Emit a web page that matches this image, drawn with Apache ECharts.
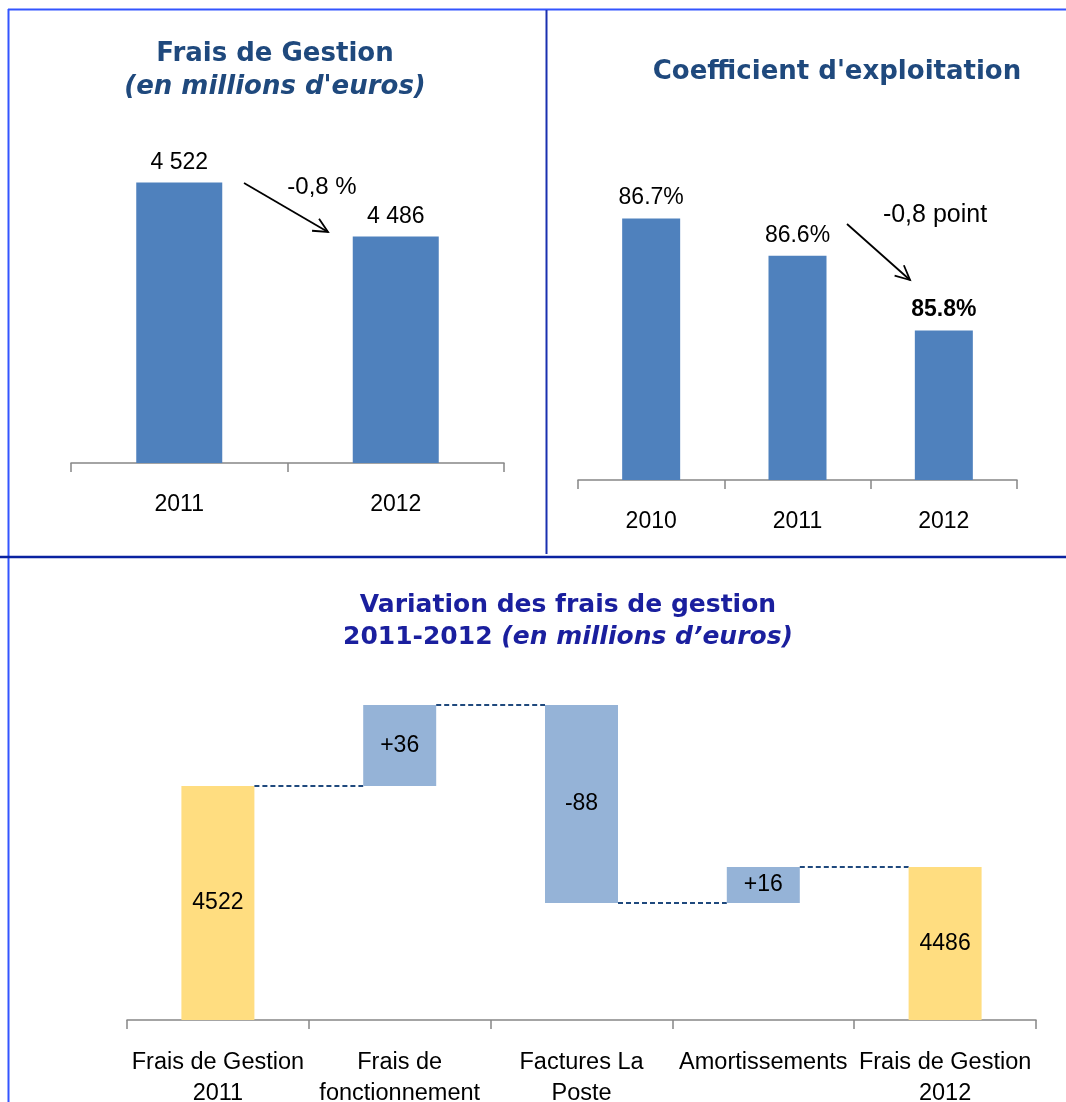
<!DOCTYPE html>
<html>
<head>
<meta charset="utf-8">
<title>Frais de gestion</title>
<style>
    html, body { margin: 0; padding: 0; background: #ffffff; }
    #main { width: 1066px; height: 1102px; }
</style>
</head>
<body>
<div id="main"></div>
<script src="https://cdn.jsdelivr.net/npm/echarts@6/dist/echarts.min.js"></script>
<script type="text/javascript">
    // Frais de gestion (en millions d'euros)
    var fgYears = ['2011', '2012'];
    var fgValues = [4522, 4486];

    // Coefficient d'exploitation
    var ceYears = ['2010', '2011', '2012'];
    var ceValues = [86.7, 86.4, 85.8];
    var ceLabels = ['86.7%', '86.6%', '85.8%'];

    // Variation des frais de gestion 2011-2012
    var wfCategories = ['Frais de Gestion\n2011', 'Frais de\nfonctionnement', 'Factures La\nPoste', 'Amortissements', 'Frais de Gestion\n2012'];
    var wfValues = [4522, 36, -88, 16, 4486];
    var wfIsTotal = [true, false, false, false, true];
    var wfLabels = ['4522', '+36', '-88', '+16', '4486'];

    var WF_MIN = 4418;
    var FONT = '"Liberation Sans", Arial, sans-serif';
    var TITLE_FONT = '"DejaVu Sans", Verdana, sans-serif';

    // cumul pour la cascade : [index, bas, haut, niveau apres]
    var wfData = [];
    var running = 0;
    for (var i = 0; i < wfValues.length; i++) {
        var lo, hi;
        if (wfIsTotal[i]) {
            lo = 0;
            hi = wfValues[i];
            running = wfValues[i];
        } else {
            var prev = running;
            running += wfValues[i];
            lo = Math.min(prev, running);
            hi = Math.max(prev, running);
        }
        wfData.push([i, lo, hi, running]);
    }

    function renderWaterfall(params, api) {
        var idx = api.value(0);
        var lo = Math.max(api.value(1), WF_MIN);
        var hi = api.value(2);
        var level = api.value(3);
        var bw = 73;
        var top = api.coord([idx, hi]);
        var bottom = api.coord([idx, lo]);
        var children = [{
            type: 'rect',
            shape: { x: top[0] - bw / 2, y: top[1], width: bw, height: bottom[1] - top[1] },
            style: { fill: wfIsTotal[idx] ? '#FFDD80' : '#95B3D7' }
        }, {
            type: 'text',
            style: {
                x: top[0], y: (top[1] + bottom[1]) / 2,
                text: wfLabels[idx], fill: '#000000',
                font: '23px ' + FONT, align: 'center', verticalAlign: 'middle'
            },
            z2: 10
        }];
        if (idx < wfValues.length - 1) {
            var a = api.coord([idx, level]);
            var b = api.coord([idx + 1, level]);
            children.push({
                type: 'line',
                shape: { x1: a[0] + bw / 2, y1: a[1], x2: b[0] - bw / 2, y2: b[1] },
                style: { stroke: '#1F497D', lineWidth: 1.8, lineDash: [5, 3] }
            });
        }
        return { type: 'group', children: children };
    }

    // fleche d'annotation
    function arrow(x1, y1, x2, y2) {
        var ang = Math.atan2(y2 - y1, x2 - x1);
        var len = 16, spread = 0.45;
        return [{
            type: 'line',
            shape: { x1: x1, y1: y1, x2: x2, y2: y2 },
            style: { stroke: '#000', lineWidth: 1.8 }
        }, {
            type: 'polyline',
            shape: { points: [
                [x2 - len * Math.cos(ang - spread), y2 - len * Math.sin(ang - spread)],
                [x2, y2],
                [x2 - len * Math.cos(ang + spread), y2 - len * Math.sin(ang + spread)]
            ] },
            style: { stroke: '#000', lineWidth: 1.8, fill: null }
        }];
    }

    function thousands(v) {
        return String(v).replace(/\B(?=(\d{3})+(?!\d))/g, ' ');
    }

    var catAxisCommon = {
        type: 'category',
        axisLine: { lineStyle: { color: '#868686', width: 1.5 } },
        axisTick: { show: true, alignWithLabel: false, length: 9, lineStyle: { color: '#868686', width: 1.5 } },
        axisLabel: { color: '#000', fontFamily: FONT, fontSize: 23, margin: 30, interval: 0 }
    };

    var graphics = [];
    graphics = graphics.concat(arrow(244, 183, 328, 232), arrow(847, 224, 910, 280));
    graphics.push(
        { type: 'text', style: { x: 322, y: 187, text: '-0,8 %', font: '24px ' + FONT, fill: '#000', align: 'center', verticalAlign: 'middle' } },
        { type: 'text', style: { x: 935, y: 215, text: '-0,8 point', font: '25px ' + FONT, fill: '#000', align: 'center', verticalAlign: 'middle' } },
        // cadres
        { type: 'line', shape: { x1: 8, y1: 9.5, x2: 1066, y2: 9.5 }, style: { stroke: '#3355FF', lineWidth: 2 } },
        { type: 'line', shape: { x1: 8.5, y1: 9, x2: 8.5, y2: 1102 }, style: { stroke: '#3355FF', lineWidth: 2 } },
        { type: 'line', shape: { x1: 546.5, y1: 10, x2: 546.5, y2: 554 }, style: { stroke: '#1A30B0', lineWidth: 2 } },
        { type: 'line', shape: { x1: 0, y1: 557, x2: 1066, y2: 557 }, style: { stroke: '#0A22A0', lineWidth: 2.5 } }
    );

    var option = {
        backgroundColor: '#FFFFFF',
        animation: false,
        title: [{
            text: '{a|Frais de Gestion}\n{b|(en millions d\'euros)}',
            left: 275, top: 38, padding: 0, textAlign: 'center',
            textStyle: {
                rich: {
                    a: { fontFamily: TITLE_FONT, fontSize: 26, fontWeight: 'bold', color: '#1F497D', lineHeight: 33 },
                    b: { fontFamily: TITLE_FONT, fontSize: 26, fontWeight: 'bold', fontStyle: 'italic', color: '#1F497D', lineHeight: 33 }
                }
            }
        }, {
            text: 'Coefficient d\'exploitation',
            left: 837, top: 55, padding: 0, textAlign: 'center',
            textStyle: { fontFamily: TITLE_FONT, fontSize: 26, fontWeight: 'bold', color: '#1F497D', lineHeight: 34 }
        }, {
            text: '{a|Variation des frais de gestion}\n{a|2011-2012 }{b|(en millions d\u2019euros)}',
            left: 568, top: 589, padding: 0, textAlign: 'center',
            textStyle: {
                rich: {
                    a: { fontFamily: TITLE_FONT, fontSize: 25, fontWeight: 'bold', color: '#1A1F9E', lineHeight: 32 },
                    b: { fontFamily: TITLE_FONT, fontSize: 25, fontWeight: 'bold', fontStyle: 'italic', color: '#1A1F9E', lineHeight: 32 }
                }
            }
        }],
        grid: [
            { left: 71, top: 163, width: 433, height: 300, outerBoundsMode: 'none', containLabel: false },
            { left: 578, top: 181, width: 439, height: 299, outerBoundsMode: 'none', containLabel: false },
            { left: 127, top: 660, width: 909, height: 360, outerBoundsMode: 'none', containLabel: false }
        ],
        xAxis: [
            Object.assign({}, catAxisCommon, { gridIndex: 0, data: fgYears }),
            Object.assign({}, catAxisCommon, { gridIndex: 1, data: ceYears }),
            Object.assign({}, catAxisCommon, {
                gridIndex: 2, data: wfCategories,
                axisLabel: { color: '#000', fontFamily: FONT, fontSize: 23.5, lineHeight: 31, margin: 27, interval: 0 }
            })
        ],
        yAxis: [
            { type: 'value', gridIndex: 0, min: 4335, max: 4535, show: false },
            { type: 'value', gridIndex: 1, min: 84.6, max: 87.0, show: false },
            { type: 'value', gridIndex: 2, min: WF_MIN, max: 4578, show: false }
        ],
        series: [{
            name: 'Frais de Gestion',
            type: 'bar',
            xAxisIndex: 0, yAxisIndex: 0,
            barWidth: 86,
            itemStyle: { color: '#4F81BD' },
            label: {
                show: true, position: 'top', distance: 8,
                color: '#000', fontFamily: FONT, fontSize: 23,
                formatter: function (p) { return thousands(p.value); }
            },
            data: fgValues
        }, {
            name: 'Coefficient d\'exploitation',
            type: 'bar',
            xAxisIndex: 1, yAxisIndex: 1,
            barWidth: 58,
            itemStyle: { color: '#4F81BD' },
            label: {
                show: true, position: 'top', distance: 9,
                color: '#000', fontFamily: FONT, fontSize: 23,
                formatter: function (p) { return ceLabels[p.dataIndex]; }
            },
            data: ceValues.map(function (v, k) {
                return k === ceValues.length - 1 ? { value: v, label: { fontWeight: 'bold' } } : v;
            })
        }, {
            name: 'Variation',
            type: 'custom',
            xAxisIndex: 2, yAxisIndex: 2,
            renderItem: renderWaterfall,
            data: wfData
        }],
        graphic: graphics
    };

    var myChart = echarts.init(document.getElementById('main'));
    myChart.setOption(option);
</script>
</body>
</html>
